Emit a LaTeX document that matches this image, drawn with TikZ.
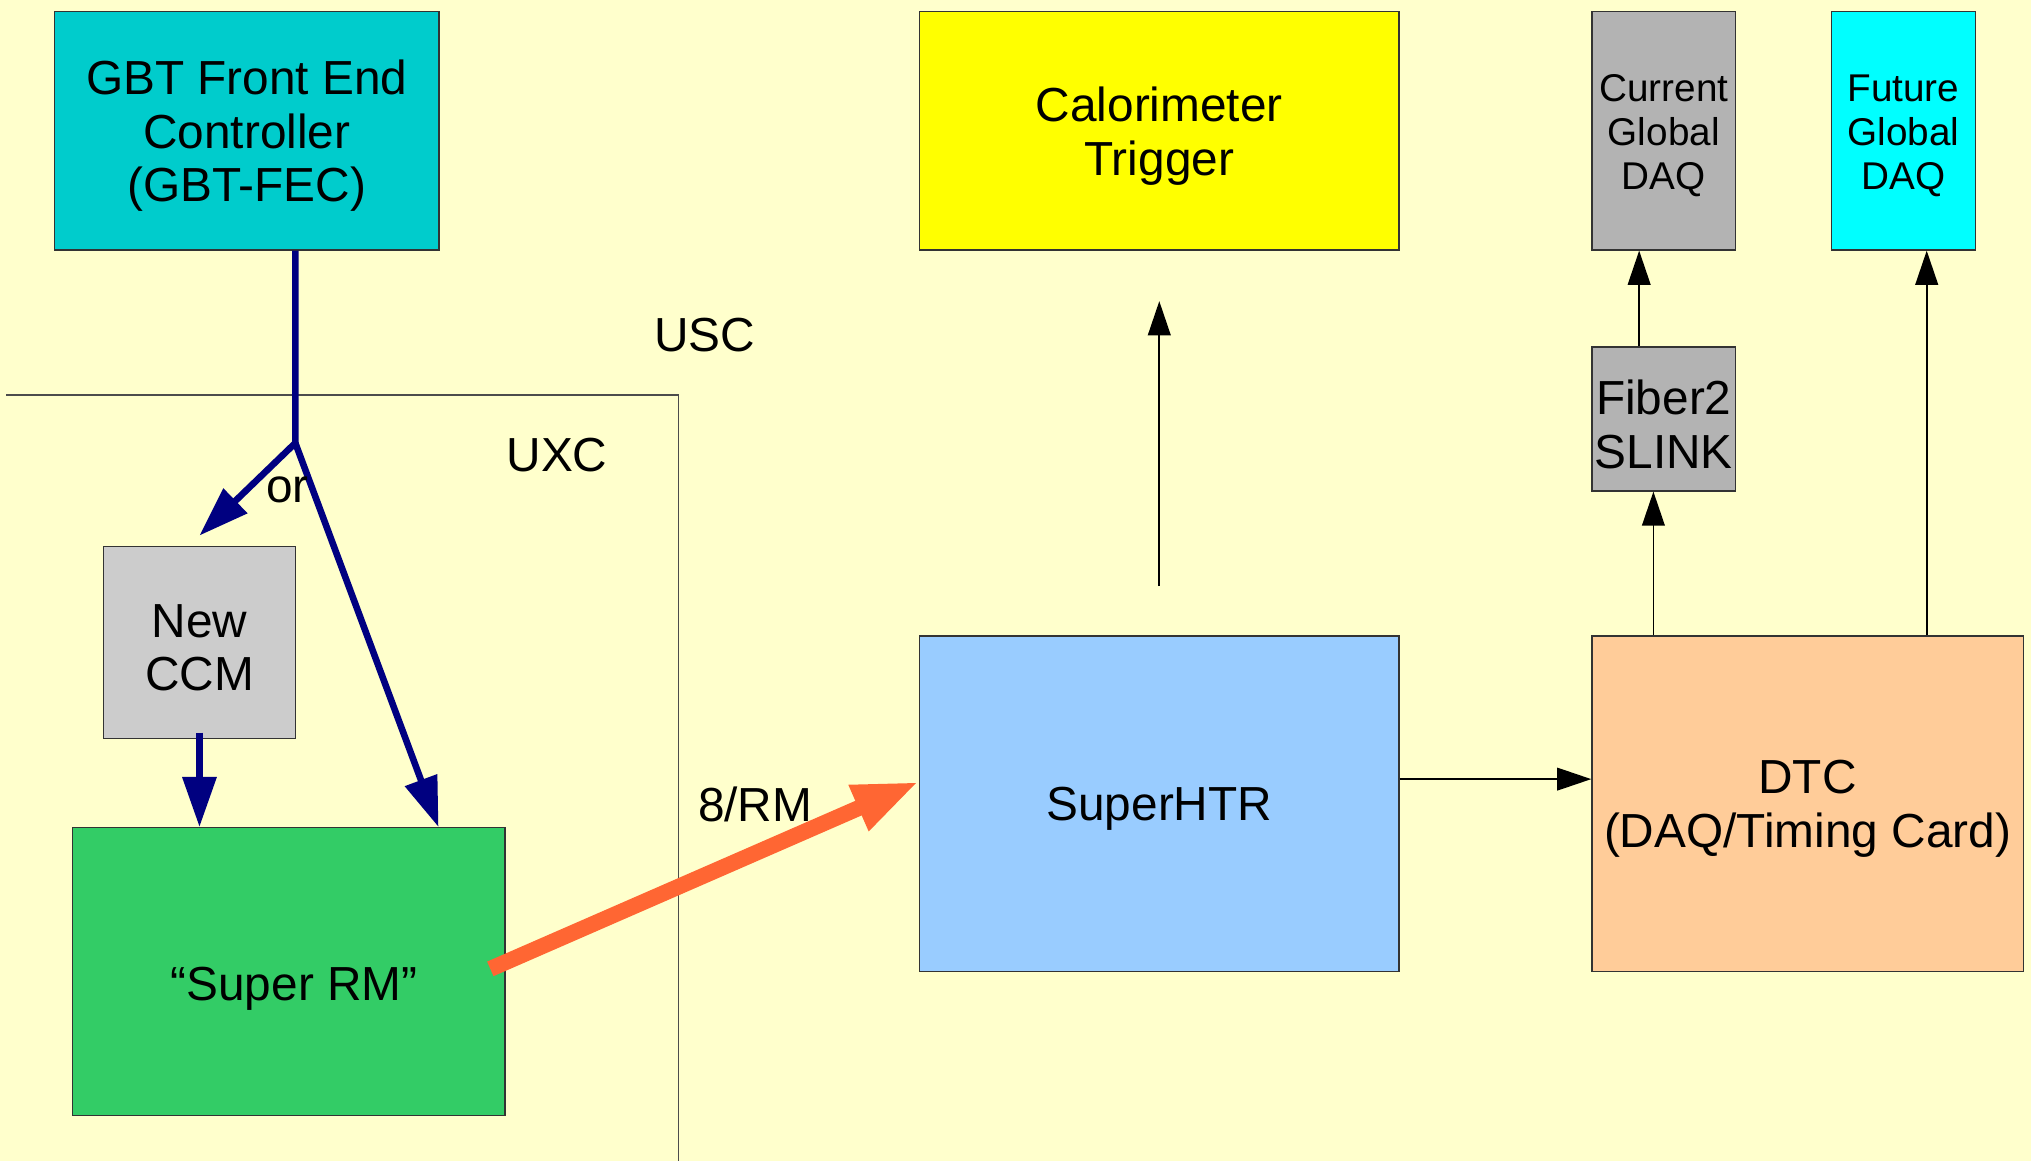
\documentclass[tikz,border=0pt]{standalone}
\usepackage{fontspec}
\setmainfont{Liberation Sans}
\usetikzlibrary{arrows.meta,calc}
\definecolor{bgyellow}{HTML}{FFFFCC}
\definecolor{gbtcyan}{HTML}{00CCCC}
\definecolor{trigyellow}{HTML}{FFFF00}
\definecolor{daqgray}{HTML}{B3B3B3}
\definecolor{futcyan}{HTML}{00FFFF}
\definecolor{ccmgray}{HTML}{CCCCCC}
\definecolor{rmgreen}{HTML}{33CC66}
\definecolor{htrblue}{HTML}{99CCFF}
\definecolor{dtcorange}{HTML}{FFCC99}
\definecolor{navy}{HTML}{000080}
\definecolor{fibreorange}{HTML}{FF6633}
\begin{document}
\begin{tikzpicture}[x=0.02cm,y=-0.02cm,
  box/.style={draw=black!80, line width=0.6pt, inner sep=0pt},
  size/.style 2 args={minimum width={#1*0.02cm}, minimum height={#2*0.02cm}},
  txt/.style={align=center, inner sep=0pt, font=\fontsize{21}{23.5}\selectfont},
  smalltxt/.style={txt, font=\fontsize{17}{19.3}\selectfont},
  lbl/.style={font=\fontsize{21}{23.5}\selectfont, inner sep=0pt},
  thinarrow/.style={draw=black, line width=0.7pt, -{Triangle[length=15pt,width=10pt]}},
  ctrl/.style={draw=navy, line width=2.9pt},
  ctrlarrow/.style={ctrl, -{Triangle[length=22pt,width=14.5pt]}},
  fibre/.style={draw=fibreorange, line width=7pt, -{Triangle[length=29pt,width=20pt]}},
  zone/.style={draw=black!70, line width=0.6pt},
]
% page
\fill[bgyellow] (0,0) rectangle (1568,896);
\useasboundingbox (0,0) rectangle (1568,896);

% blocks
\node[box, fill=gbtcyan, size={297}{184}] (gbt) at (190.5,101) {};
\node[box, fill=trigyellow, size={370}{184}] (cal) at (895,101) {};
\node[box, fill=daqgray, size={111}{184}] (cur) at (1284.5,101) {};
\node[box, fill=futcyan, size={111}{184}] (fut) at (1469.5,101) {};
\node[box, fill=daqgray, size={111}{111}] (fib) at (1284.5,323.5) {};
\node[box, fill=ccmgray, size={148}{148}] (ccm) at (154,496) {};
\node[box, fill=rmgreen, size={334}{222}] (rm) at (223,750) {};
\node[box, fill=htrblue, size={370}{259}] (htr) at (895,620.5) {};
\node[box, fill=dtcorange, size={333}{259}] (dtc) at (1395.5,620.5) {};

% block captions
\node[txt] (gbtname) at ($(gbt)+(0,4)$) {GBT Front End\\Controller\\(GBT-FEC)};
\node[txt] (calname) at ($(cal)+(0,4)$) {Calorimeter\\Trigger};
\node[smalltxt] (curname) at ($(cur)+(0,4)$) {Current\\Global\\DAQ};
\node[smalltxt] (futname) at ($(fut)+(0,4)$) {Future\\Global\\DAQ};
\node[txt] (fibname) at ($(fib)+(0,4)$) {Fiber2\\SLINK};
\node[txt] (ccmname) at ($(ccm)+(0,4)$) {New\\CCM};
\node[txt] (rmname) at ($(rm)+(4,13)$) {“Super RM”};
\node[txt] (htrname) at ($(htr)+(0,4)$) {SuperHTR};
\node[txt] (dtcname) at ($(dtc)+(0,4)$) {DTC\\(DAQ/Timing Card)};

% USC / UXC boundary
\coordinate (zoneA) at (5,305);
\coordinate (zoneB) at (524,305);
\coordinate (zoneC) at (524,896);
\draw[zone] (zoneA) -- (zoneB) -- (zoneC);
\node[lbl] (usc) at (544,259) {USC};
\node[lbl] (uxc) at (430,351) {UXC};

% control path from the GBT-FEC
\coordinate (split) at (228,342);
\coordinate (ccmtip) at ($(ccm.north)+(0,-8)$);
\coordinate (rmtip) at ($(rm.north east)+(-52,0)$);
\draw[ctrlarrow] (split |- gbt.south) -- (split) -- (ccmtip);
\draw[ctrlarrow] (split) -- (rmtip);
\draw[ctrlarrow] ($(ccm.south)+(0,-5)$) -- (ccm.south |- rm.north);
\node[lbl] (or) at (222,378) {or};

% optical links to the SuperHTR
\draw[fibre] ($(rm.east)+(-12,-2)$) -- ($(htr.west)+(0,-17)$);
\node[lbl] (links) at (583,621) {8/RM};

% back-end data paths
\draw[thinarrow] ($(htr.north)+(0,-38)$) -- ($(cal.south)+(0,39)$);
\coordinate (htrout) at ($(htr.east)+(0,-19)$);
\draw[thinarrow] (htrout) -- (dtc.west |- htrout);
\coordinate (dtcfib) at ($(dtc.north west)+(48,0)$);
\draw[thinarrow] (dtcfib) -- (dtcfib |- fib.south);
\coordinate (fibcur) at ($(fib.north west)+(37,0)$);
\draw[thinarrow] (fibcur) -- (fibcur |- cur.south);
\coordinate (dtcfut) at ($(dtc.north west)+(259,0)$);
\draw[thinarrow] (dtcfut) -- (dtcfut |- fut.south);
\end{tikzpicture}
\end{document}
